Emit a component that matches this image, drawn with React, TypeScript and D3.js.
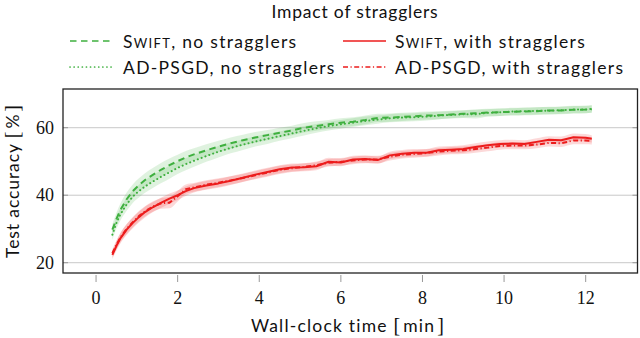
import React from 'react';
import * as d3 from 'd3';

// wall-clock time [min]
const times = [0.4, 0.5, 0.6, 0.75, 0.9, 1.05, 1.2, 1.4, 1.6, 1.8, 2.0, 2.2, 2.4, 2.7, 3.0, 3.3, 3.6, 3.9, 4.2, 4.5, 4.8, 5.1, 5.4, 5.7, 6.0, 6.3, 6.6, 6.9, 7.2, 7.5, 7.8, 8.1, 8.4, 8.7, 9.0, 9.3, 9.6, 9.9, 10.2, 10.5, 10.8, 11.1, 11.4, 11.7, 12.0, 12.15];

const swiftNo = [29.8, 33, 35.7, 38.8, 41.2, 43, 44.5, 46.1, 47.6, 48.9, 50.1, 51.2, 52.1, 53.3, 54.4, 55.4, 56.3, 57.1, 57.8, 58.5, 59.2, 60.0, 60.5, 61.0, 61.5, 61.8, 62.3, 62.9, 63.0, 63.2, 63.4, 63.6, 63.7, 63.9, 64.1, 64.3, 64.5, 64.6, 64.7, 64.8, 64.9, 65.1, 65.1, 65.3, 65.4, 65.5];
const adNo = [28.3, 31.8, 34.4, 37.3, 39.6, 41.2, 42.6, 44.1, 45.5, 46.8, 48.1, 49.2, 50.2, 51.6, 52.9, 54.0, 55.0, 55.9, 56.7, 57.5, 58.3, 59.1, 59.8, 60.5, 61.0, 61.5, 62.0, 62.4, 62.8, 63.0, 63.1, 63.3, 63.6, 63.8, 64.0, 64.0, 64.4, 64.6, 64.8, 64.9, 65.0, 65.0, 65.2, 65.4, 65.4, 65.6];
const swiftStrag = [22.3, 25, 27.3, 29.8, 31.8, 33.5, 35, 36.5, 37.8, 39, 40.0, 41.2, 42.1, 42.9, 43.5, 44.3, 45.2, 46.1, 46.9, 47.7, 48.2, 48.3, 48.6, 49.9, 49.7, 50.6, 50.7, 50.4, 51.8, 52.3, 52.6, 52.6, 53.3, 53.5, 53.7, 54.3, 54.8, 55.2, 55.3, 55.2, 55.8, 56.4, 56.3, 57.2, 57.0, 56.7];
const adStrag = [22.8, 25.3, 27.5, 30, 32, 33.8, 35.2, 36.7, 37.6, 37.8, 39.7, 41.8, 42.3, 43.1, 43.7, 44.4, 45.1, 45.9, 46.7, 47.5, 48.0, 48.4, 48.9, 49.6, 49.9, 50.3, 50.6, 50.6, 51.4, 52.0, 52.2, 52.5, 52.9, 53.2, 53.3, 53.7, 54.1, 54.6, 54.7, 54.7, 55.0, 55.5, 55.4, 56.2, 56.2, 56.1];

// standard deviation (shaded bands)
const swiftNoSd = [1.6, 1.8, 1.9, 2.0, 2.0, 2.0, 2.0, 2.0, 2.0, 2.0, 1.9, 1.9, 1.8, 1.8, 1.7, 1.7, 1.6, 1.6, 1.5, 1.5, 1.4, 1.4, 1.4, 1.3, 1.3, 1.3, 1.3, 1.2, 1.2, 1.2, 1.2, 1.2, 1.2, 1.1, 1.1, 1.1, 1.1, 1.1, 1.1, 1.1, 1.1, 1.1, 1.1, 1.1, 1.1, 1.1];
const adNoSd = [1.5, 1.7, 1.8, 1.9, 1.9, 1.9, 1.9, 1.9, 1.9, 1.9, 1.8, 1.8, 1.8, 1.7, 1.7, 1.6, 1.6, 1.5, 1.5, 1.4, 1.4, 1.4, 1.3, 1.3, 1.3, 1.3, 1.3, 1.2, 1.2, 1.2, 1.2, 1.2, 1.1, 1.1, 1.1, 1.3, 1.1, 1.1, 1.1, 1.1, 1.1, 1.1, 1.1, 1.1, 1.1, 1.1];
const swiftStragSd = [1.2, 1.4, 1.5, 1.6, 1.6, 1.6, 1.6, 1.5, 1.5, 1.5, 1.4, 1.4, 1.3, 1.3, 1.3, 1.3, 1.2, 1.2, 1.2, 1.2, 1.2, 1.2, 1.2, 1.2, 1.1, 1.1, 1.1, 1.1, 1.1, 1.1, 1.1, 1.1, 1.1, 1.1, 1.1, 1.1, 1.1, 1.1, 1.1, 1.1, 1.1, 1.1, 1.1, 1.1, 1.1, 1.1];
const adStragSd = [1.2, 1.3, 1.4, 1.5, 1.5, 1.5, 1.5, 1.5, 1.6, 1.7, 1.6, 1.4, 1.3, 1.3, 1.3, 1.2, 1.2, 1.2, 1.2, 1.2, 1.1, 1.1, 1.1, 1.1, 1.1, 1.1, 1.1, 1.1, 1.1, 1.1, 1.1, 1.1, 1.1, 1.1, 1.1, 1.1, 1.1, 1.1, 1.1, 1.1, 1.1, 1.1, 1.1, 1.1, 1.1, 1.1];

const xTicks = [0, 2, 4, 6, 8, 10, 12];
const yTicks = [20, 40, 60];

const GREEN = '#3fb03f';
const RED = '#ec1c1c';
const SANS = 'Lato, "Open Sans", sans-serif';
const SERIF = '"Liberation Serif", "DejaVu Serif", serif';

const series = [
  { name: 'Swift', rest: ', no stragglers', vals: swiftNo, sd: swiftNoSd, color: GREEN, dash: '6.5,4.5', cap: 'butt' },
  { name: 'Swift', rest: ', with stragglers', vals: swiftStrag, sd: swiftStragSd, color: RED, dash: '', cap: 'butt' },
  { name: 'AD-PSGD', rest: ', no stragglers', vals: adNo, sd: adNoSd, color: GREEN, dash: '0.1,4', cap: 'round' },
  { name: 'AD-PSGD', rest: ', with stragglers', vals: adStrag, sd: adStragSd, color: RED, dash: '5,2.5,1.2,2.5', cap: 'butt' },
];

export default function App() {
  const left = 63, right = 637.5, top = 89, bottom = 273;
  const x = d3.scaleLinear().domain([-0.81, 13.27]).range([left, right]);
  const y = d3.scaleLinear().domain([16.95, 71.47]).range([bottom, top]);

  const line = (vals: number[]) =>
    d3.line<number>().x((_, i) => x(times[i])).y(d => y(d))(vals) || '';
  const band = (vals: number[], sd: number[]) =>
    d3.area<number>()
      .x((_, i) => x(times[i]))
      .y0((d, i) => y(d - sd[i]))
      .y1((d, i) => y(d + sd[i]))
      .curve(d3.curveMonotoneX)(vals) || '';

  const legendPos = [
    { lx: 70, tx: 123, ly: 43 },
    { lx: 343, tx: 395, ly: 43 },
    { lx: 70, tx: 123, ly: 69 },
    { lx: 343, tx: 395, ly: 69 },
  ];

  return (
    <svg width={640} height={338} style={{ position: 'absolute', left: 0, top: 0 }}>
      <rect width={640} height={338} fill="#fff" />
      <text x={355} y={18} textAnchor="middle" fontFamily={SANS} fontSize={17.5} letterSpacing={0.8} fill="#111">Impact of stragglers</text>

      {series.map((s, i) => {
        const p = legendPos[i];
        return (
          <g key={'lg' + i}>
            <line x1={p.lx} x2={p.lx + 43} y1={p.ly - 2} y2={p.ly - 2} stroke={s.color} strokeWidth={1.7}
              strokeDasharray={s.dash} strokeLinecap={s.cap as any} />
            <text x={p.tx} y={p.ly + 5} fontFamily={SANS} fontSize={17.5} letterSpacing={1.3} fill="#111">
              {s.name === 'Swift'
                ? <><tspan>S</tspan><tspan fontSize={13}>WIFT</tspan></>
                : s.name}
              {s.rest}
            </text>
          </g>
        );
      })}

      {/* grid */}
      {yTicks.map(t => (
        <g key={'gy' + t}>
          <line x1={left} x2={right} y1={y(t)} y2={y(t)} stroke="#c8c8c8" strokeWidth={1} />
          <line x1={left} x2={left + 5} y1={y(t)} y2={y(t)} stroke="#999" strokeWidth={1} />
          <line x1={right - 5} x2={right} y1={y(t)} y2={y(t)} stroke="#999" strokeWidth={1} />
          <text x={54} y={y(t) + 6} textAnchor="end" fontFamily={SERIF} fontSize={18} fill="#111">{t}</text>
        </g>
      ))}
      {xTicks.map(t => (
        <g key={'gx' + t}>
          <line x1={x(t)} x2={x(t)} y1={bottom + 2} y2={bottom + 9} stroke="#999" strokeWidth={1} />
          <text x={x(t)} y={304} textAnchor="middle" fontFamily={SERIF} fontSize={18} fill="#111">{t}</text>
        </g>
      ))}

      {/* bands */}
      {series.map((s, i) => (
        <path key={'b' + i} d={band(s.vals, s.sd)} fill={s.color} fillOpacity={0.17} stroke="none" />
      ))}
      {/* lines */}
      {series.map((s, i) => (
        <path key={'l' + i} d={line(s.vals)} fill="none" stroke={s.color} strokeWidth={2}
          strokeDasharray={s.dash} strokeLinecap={s.cap as any} strokeLinejoin="round" />
      ))}

      <rect x={left} y={top} width={right - left} height={bottom - top} fill="none" stroke="#222" strokeWidth={1.3} />

      <text transform={`translate(19,${(top + bottom) / 2}) rotate(-90)`} textAnchor="middle"
        fontFamily={SANS} fontSize={17.5} letterSpacing={0.9} fill="#111">
        Test accuracy <tspan fontFamily={SERIF} fontSize={20}>[</tspan>
        <tspan dx={2}>%</tspan>
        <tspan dx={2} fontFamily={SERIF} fontSize={20}>]</tspan>
      </text>
      <text x={348} y={332} textAnchor="middle" fontFamily={SANS} fontSize={17.5} letterSpacing={1.2} fill="#111">
        Wall-clock time <tspan fontFamily={SERIF} fontSize={20}>[</tspan>
        <tspan dx={2}>min</tspan>
        <tspan dx={2} fontFamily={SERIF} fontSize={20}>]</tspan>
      </text>
    </svg>
  );
}
